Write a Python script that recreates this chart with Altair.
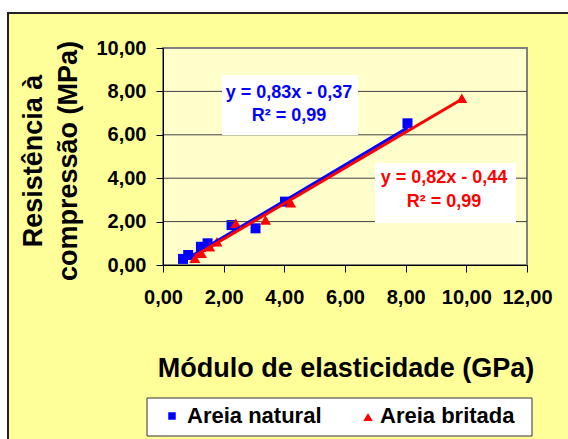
import altair as alt
import pandas as pd

# ---- data ----
nat_x = [0.66, 0.83, 1.25, 1.47, 2.26, 3.05, 4.02, 8.06]
nat_y = [0.28, 0.46, 0.84, 1.00, 1.84, 1.69, 2.92, 6.53]
brit_x = [1.05, 1.27, 1.54, 1.78, 2.40, 3.38, 4.21, 9.85]
brit_y = [0.31, 0.54, 0.84, 1.07, 1.92, 2.07, 2.87, 7.68]
nat_fit = (0.83, -0.37)
brit_fit = (0.82, -0.44)
x_ticks = [0, 2, 4, 6, 8, 10, 12]
y_ticks = [0, 2, 4, 6, 8, 10]
grid_y = [2, 4, 6, 8]
series_names = ["Areia natural", "Areia britada"]
eq_nat = ["y = 0,83x - 0,37", "R² = 0,99"]
eq_brit = ["y = 0,82x - 0,44", "R² = 0,99"]

FONT = "Liberation Sans"
W, H = 364, 217
BLUE, RED = "#0000FF", "#FF0000"

lab = "replace(format(datum.value, '.2f'), '.', ',')"
xscale = alt.Scale(domain=[0, 12], nice=False, zero=False)
yscale = alt.Scale(domain=[0, 10], nice=False, zero=False)
xaxis = alt.Axis(values=x_ticks, labelExpr=lab, title=None, grid=False,
                 domainColor="black", tickColor="black", tickSize=7,
                 labelPadding=15, labelFont=FONT, labelFontSize=20,
                 labelFontWeight="bold", labelColor="black", zindex=1,
                 labelFlush=False, labelOverlap=False)
yaxis = alt.Axis(values=y_ticks, labelExpr=lab, title=None, grid=False,
                 domainColor="black", tickColor="black", tickSize=7,
                 labelPadding=10, labelFont=FONT, labelFontSize=20,
                 labelFontWeight="bold", labelColor="black", zindex=1,
                 labelFlush=False, labelOverlap=False)

def X():
    return alt.X("x:Q", scale=xscale, axis=xaxis)

def Y():
    return alt.Y("y:Q", scale=yscale, axis=yaxis)

dummy = pd.DataFrame({"a": [0]})

def rect(x1, x2, y1, y2, fill, stroke, sw):
    return alt.Chart(dummy).mark_rect(fill=fill, stroke=stroke, strokeWidth=sw).encode(
        x=alt.value(x1), x2=alt.value(x2), y=alt.value(y1), y2=alt.value(y2))

def txt(s, x, y, size, color="black", align="center", baseline="middle", angle=0):
    return alt.Chart(dummy).mark_text(
        font=FONT, fontSize=size, fontWeight="bold", color=color,
        align=align, baseline=baseline, angle=angle).encode(
        x=alt.value(x), y=alt.value(y), text=alt.value(s))

outer = rect(-155, 420, -35, 410, "#FFFF99", "#222222", 2)
inner = rect(0, W, 0, H, "#FFFFCC", "#808080", 2)

nat = pd.DataFrame({"x": nat_x, "y": nat_y})
brit = pd.DataFrame({"x": brit_x, "y": brit_y})

pts_nat = alt.Chart(nat).mark_point(shape="square", filled=True, color=BLUE, size=100, opacity=1).encode(
    x=X(), y=Y())
pts_brit = alt.Chart(brit).mark_point(shape="triangle-up", filled=True, color=RED, size=120, opacity=1).encode(
    x=X(), y=Y())

grid = alt.Chart(pd.DataFrame({"y": grid_y})).mark_rule(color="#404040", strokeWidth=1).encode(
    y=Y(), x=alt.value(0), x2=alt.value(W))

def fit_df(xs, fit):
    lo, hi = min(xs), max(xs)
    return pd.DataFrame({"x": [lo, hi], "y": [fit[0] * lo + fit[1], fit[0] * hi + fit[1]]})

line_nat = alt.Chart(fit_df(nat_x, nat_fit)).mark_line(color=BLUE, strokeWidth=3).encode(x=X(), y=Y())
line_brit = alt.Chart(fit_df(brit_x, brit_fit)).mark_line(color=RED, strokeWidth=3).encode(x=X(), y=Y())

box_nat = rect(59, 195, 27, 87, "white", "white", 0)
t_nat1 = txt(eq_nat[0], 126, 45, 18, BLUE)
t_nat2 = txt(eq_nat[1], 126, 68, 18, BLUE)
box_brit = rect(212, 353, 115, 175, "white", "white", 0)
t_brit1 = txt(eq_brit[0], 281, 130, 18, RED)
t_brit2 = txt(eq_brit[1], 281, 154, 18, RED)

ytitle1 = txt("Resistência à", -121, 113, 27, angle=270, baseline="alphabetic")
ytitle2 = txt("compressão (MPa)", -86, 113, 27, angle=270, baseline="alphabetic")
xtitle = txt("Módulo de elasticidade (GPa)", 183, 329, 27, baseline="alphabetic")

leg_box = rect(-16, 369, 350, 388, "white", "#333333", 1)
leg_sq = alt.Chart(dummy).mark_point(shape="square", filled=True, color=BLUE, size=56, opacity=1).encode(
    x=alt.value(9), y=alt.value(368))
leg_tri = alt.Chart(dummy).mark_point(shape="triangle-up", filled=True, color=RED, size=90, opacity=1).encode(
    x=alt.value(205), y=alt.value(369))
leg_t1 = txt(series_names[0], 24, 375, 22, align="left", baseline="alphabetic")
leg_t2 = txt(series_names[1], 217, 375, 22, align="left", baseline="alphabetic")

chart = alt.layer(
    outer, inner, pts_nat, grid, pts_brit, line_nat, line_brit,
    box_nat, t_nat1, t_nat2, box_brit, t_brit1, t_brit2,
    ytitle1, ytitle2, xtitle, leg_box, leg_sq, leg_tri, leg_t1, leg_t2,
).properties(
    width=W, height=H,
    autosize=alt.AutoSizeParams(type="none"),
    padding={"left": 163, "top": 48, "right": 41, "bottom": 174},
    background="white",
).configure_view(strokeWidth=0)

chart.save("out.html", embed_options={"renderer": "svg", "actions": False})
